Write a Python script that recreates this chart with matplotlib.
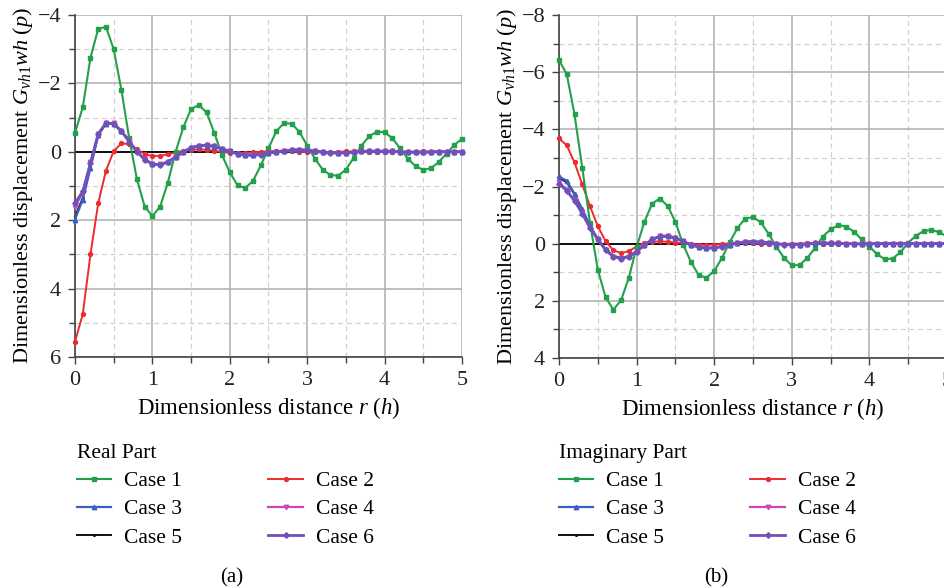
"""Real and imaginary parts of the dimensionless displacement G_vh1 for six cases."""

import matplotlib

matplotlib.use("Agg")
import matplotlib.pyplot as plt
from matplotlib.ticker import MultipleLocator
import numpy as np

plt.rcParams["font.family"] = ["Liberation Serif", "DejaVu Serif"]
plt.rcParams["mathtext.fontset"] = "custom"
plt.rcParams["mathtext.rm"] = "Liberation Serif"
plt.rcParams["mathtext.it"] = "Liberation Serif:italic"

# sampled distances r/h
r = np.linspace(0.0, 5.0, 51)

case_labels = ["Case 1", "Case 2", "Case 3", "Case 4", "Case 5", "Case 6"]

real_case1 = [-0.55, -1.3, -2.75, -3.6, -3.65, -3.0, -1.8, -0.4, 0.8, 1.6,
              1.88, 1.6, 0.9, 0.0, -0.72, -1.25, -1.37, -1.15, -0.55, 0.1,
              0.6, 0.98, 1.06, 0.85, 0.4, -0.1, -0.6, -0.84, -0.82, -0.58,
              -0.18, 0.2, 0.52, 0.68, 0.7, 0.52, 0.18, -0.18, -0.45, -0.59,
              -0.57, -0.4, -0.1, 0.2, 0.42, 0.53, 0.48, 0.3, 0.05, -0.2,
              -0.38]
real_case2 = [5.55, 4.75, 3.0, 1.5, 0.55, -0.02, -0.25, -0.22, -0.08, 0.07,
              0.12, 0.12, 0.07, 0.02, -0.03, -0.06, -0.07, -0.06, -0.03, 0.0,
              0.03, 0.04, 0.03, 0.02, 0.0, -0.02, -0.02, -0.02, -0.01, 0.0,
              0.01, 0.02, 0.01, 0.01, 0.0, -0.01, -0.01, -0.01, 0.0, 0.0,
              0.01, 0.01, 0.0, 0.0, 0.0, -0.01, 0.0, 0.0, 0.0, 0.0,
              0.0]
real_case3 = [1.98, 1.4, 0.47, -0.48, -0.82, -0.81, -0.6, -0.31, -0.01, 0.22,
              0.35, 0.37, 0.29, 0.15, 0.01, -0.11, -0.17, -0.18, -0.15, -0.08,
              -0.01, 0.05, 0.09, 0.09, 0.07, 0.04, 0.0, -0.03, -0.04, -0.05,
              -0.04, -0.02, 0.01, 0.02, 0.03, 0.03, 0.01, -0.01, -0.02, -0.02,
              -0.01, -0.01, 0.0, 0.01, 0.01, 0.01, 0.0, 0.0, 0.0, 0.0,
              0.0]
real_case4 = [1.6, 1.2, 0.3, -0.53, -0.85, -0.83, -0.61, -0.31, -0.01, 0.22,
              0.36, 0.37, 0.3, 0.15, 0.0, -0.12, -0.18, -0.19, -0.16, -0.09,
              -0.01, 0.06, 0.1, 0.1, 0.08, 0.04, 0.0, -0.03, -0.05, -0.06,
              -0.05, -0.02, 0.01, 0.03, 0.04, 0.03, 0.01, -0.01, -0.02, -0.02,
              -0.02, -0.01, 0.0, 0.01, 0.01, 0.01, 0.01, 0.0, 0.0, 0.0,
              0.0]
real_case5 = [1.9, 1.35, 0.42, -0.5, -0.83, -0.82, -0.6, -0.31, -0.01, 0.22,
              0.35, 0.37, 0.29, 0.15, 0.01, -0.11, -0.17, -0.18, -0.15, -0.08,
              -0.01, 0.05, 0.09, 0.09, 0.07, 0.04, 0.0, -0.03, -0.04, -0.05,
              -0.04, -0.02, 0.01, 0.02, 0.03, 0.03, 0.01, -0.01, -0.02, -0.02,
              -0.01, -0.01, 0.0, 0.01, 0.01, 0.01, 0.0, 0.0, 0.0, 0.0,
              0.0]
real_case6 = [1.5, 1.16, 0.33, -0.52, -0.84, -0.82, -0.6, -0.3, 0.0, 0.23,
              0.36, 0.38, 0.3, 0.15, 0.0, -0.12, -0.18, -0.19, -0.16, -0.09,
              -0.01, 0.06, 0.1, 0.1, 0.08, 0.04, 0.0, -0.03, -0.05, -0.06,
              -0.05, -0.02, 0.01, 0.03, 0.04, 0.03, 0.01, -0.01, -0.02, -0.02,
              -0.02, -0.01, 0.0, 0.01, 0.01, 0.01, 0.01, 0.0, 0.0, 0.0,
              0.0]

imag_case1 = [-6.42, -5.93, -4.52, -2.65, -0.72, 0.91, 1.87, 2.31, 1.98, 1.19,
              0.12, -0.76, -1.4, -1.58, -1.32, -0.76, 0.03, 0.64, 1.1, 1.19,
              0.96, 0.5, -0.05, -0.55, -0.88, -0.93, -0.75, -0.35, 0.1, 0.5,
              0.76, 0.75, 0.5, 0.15, -0.25, -0.5, -0.65, -0.6, -0.42, -0.15,
              0.1, 0.37, 0.55, 0.52, 0.3, -0.03, -0.28, -0.44, -0.48, -0.4,
              -0.25]
imag_case2 = [-3.68, -3.44, -2.84, -2.07, -1.31, -0.61, -0.09, 0.23, 0.33, 0.26,
              0.1, -0.02, -0.07, -0.08, -0.07, -0.04, -0.01, 0.01, 0.03, 0.04,
              0.03, 0.01, -0.01, -0.02, -0.02, -0.01, 0.0, 0.01, 0.01, 0.01,
              0.0, 0.0, -0.01, -0.01, 0.0, 0.0, 0.0, 0.01, 0.0, 0.0,
              0.0, 0.0, 0.0, 0.0, 0.0, 0.0, 0.0, 0.0, 0.0, 0.0,
              0.0]
imag_case3 = [-2.35, -2.2, -1.75, -1.2, -0.62, -0.17, 0.2, 0.43, 0.5, 0.44,
              0.27, 0.05, -0.14, -0.25, -0.26, -0.19, -0.08, 0.04, 0.11, 0.15,
              0.14, 0.09, 0.03, -0.03, -0.06, -0.07, -0.05, -0.03, 0.0, 0.02,
              0.03, 0.03, 0.01, -0.01, -0.02, -0.02, -0.01, 0.0, 0.01, 0.01,
              0.01, 0.0, 0.0, 0.0, 0.0, 0.0, 0.0, 0.0, 0.0, 0.0,
              0.0]
imag_case4 = [-2.15, -1.88, -1.52, -1.07, -0.56, -0.15, 0.22, 0.45, 0.52, 0.45,
              0.28, 0.05, -0.15, -0.26, -0.27, -0.2, -0.08, 0.04, 0.12, 0.16,
              0.15, 0.1, 0.03, -0.03, -0.06, -0.07, -0.06, -0.03, 0.0, 0.03,
              0.04, 0.03, 0.01, -0.01, -0.02, -0.02, -0.01, 0.0, 0.01, 0.01,
              0.01, 0.0, 0.0, 0.0, 0.0, 0.0, 0.0, 0.0, 0.0, 0.0,
              0.0]
imag_case5 = [-2.3, -2.15, -1.72, -1.18, -0.6, -0.16, 0.2, 0.43, 0.5, 0.44,
              0.27, 0.05, -0.14, -0.25, -0.26, -0.19, -0.08, 0.04, 0.11, 0.15,
              0.14, 0.09, 0.03, -0.03, -0.06, -0.07, -0.05, -0.03, 0.0, 0.02,
              0.03, 0.03, 0.01, -0.01, -0.02, -0.02, -0.01, 0.0, 0.01, 0.01,
              0.01, 0.0, 0.0, 0.0, 0.0, 0.0, 0.0, 0.0, 0.0, 0.0,
              0.0]
imag_case6 = [-2.1, -1.85, -1.5, -1.05, -0.55, -0.15, 0.22, 0.45, 0.52, 0.45,
              0.28, 0.05, -0.15, -0.26, -0.27, -0.2, -0.08, 0.04, 0.12, 0.16,
              0.15, 0.1, 0.03, -0.03, -0.06, -0.07, -0.06, -0.03, 0.0, 0.03,
              0.04, 0.03, 0.01, -0.01, -0.02, -0.02, -0.01, 0.0, 0.01, 0.01,
              0.01, 0.0, 0.0, 0.0, 0.0, 0.0, 0.0, 0.0, 0.0, 0.0,
              0.0]

real_parts = [real_case1, real_case2, real_case3, real_case4, real_case5, real_case6]
imag_parts = [imag_case1, imag_case2, imag_case3, imag_case4, imag_case5, imag_case6]

styles = [
    dict(color="#23a04a", marker="s", ms=3.0, lw=1.5, zorder=4),
    dict(color="#ee2a2f", marker="o", ms=2.8, lw=1.4, zorder=3),
    dict(color="#3d5fc4", marker="^", ms=3.2, lw=1.6, zorder=5),
    dict(color="#cc44c0", marker="v", ms=3.2, lw=1.6, zorder=5),
    dict(color="#111111", marker=".", ms=2.5, lw=1.4, zorder=2),
    dict(color="#6f52b8", marker="D", ms=2.8, lw=2.0, zorder=6),
]


def style_axes(ax, ylim, ymajor):
    ax.set_xlim(0, 5)
    ax.set_ylim(*ylim)
    ax.xaxis.set_major_locator(MultipleLocator(1))
    ax.xaxis.set_minor_locator(MultipleLocator(0.5))
    ax.yaxis.set_major_locator(MultipleLocator(ymajor))
    ax.yaxis.set_minor_locator(MultipleLocator(ymajor / 2))
    ax.grid(True, which="major", color="#b4b4b4", lw=1.2, ls="-")
    ax.grid(True, which="minor", color="#d0d0d0", lw=0.9, ls=(0, (4, 3)))
    ax.set_axisbelow(True)
    ax.axhline(0, color="black", lw=1.3, zorder=1)
    for side in ("top", "right"):
        ax.spines[side].set_visible(False)
    for side in ("left", "bottom"):
        ax.spines[side].set_color("#444444")
        ax.spines[side].set_linewidth(1.2)
    ax.tick_params(which="both", direction="out", colors="#444444", labelcolor="#222222",
                   labelsize=16, width=1.0, pad=5)
    ax.tick_params(which="major", length=5)
    ax.tick_params(which="minor", length=4)
    ax.set_xlabel(r"Dimensionless distance $\mathit{r\ (h)}$", fontsize=16.5, labelpad=4)
    ax.set_ylabel(r"Dimensionless displacement $G_{vh1}wh\ \mathit{(p)}$", fontsize=16, labelpad=2)


fig = plt.figure(figsize=(9.45, 5.88), dpi=100)
ax_re = fig.add_axes([75 / 945, 1 - 357 / 588, 387 / 945, 342 / 588])
ax_im = fig.add_axes([559 / 945, 1 - 358 / 588, 388 / 945, 343 / 588])

panels = [
    (ax_re, real_parts, (6, -4), 2, "Real Part", 77, "(a)", 232),
    (ax_im, imag_parts, (4, -8), 2, "Imaginary Part", 559, "(b)", 716),
]

for ax, series, ylim, ymajor, title, leg_x, tag, tag_x in panels:
    handles = []
    for label, values, st in zip(case_labels, series, styles):
        (h,) = ax.plot(r, values, label=label, clip_on=False, **st)
        handles.append(h)
    style_axes(ax, ylim, ymajor)
    order = [0, 2, 4, 1, 3, 5]
    fig.legend([handles[i] for i in order], [case_labels[i] for i in order],
               loc="upper left", bbox_to_anchor=(leg_x / 945, 1 - 444 / 588),
               ncol=2, frameon=False, title=title, alignment="left",
               fontsize=15.5, title_fontsize=15.5, handlelength=1.6,
               handletextpad=0.6, columnspacing=4.0, labelspacing=0.38,
               borderpad=0, borderaxespad=0)
    fig.text(tag_x / 945, 1 - 578 / 588, tag, ha="center", va="center", fontsize=15)

fig.savefig("out.png", dpi=100)
